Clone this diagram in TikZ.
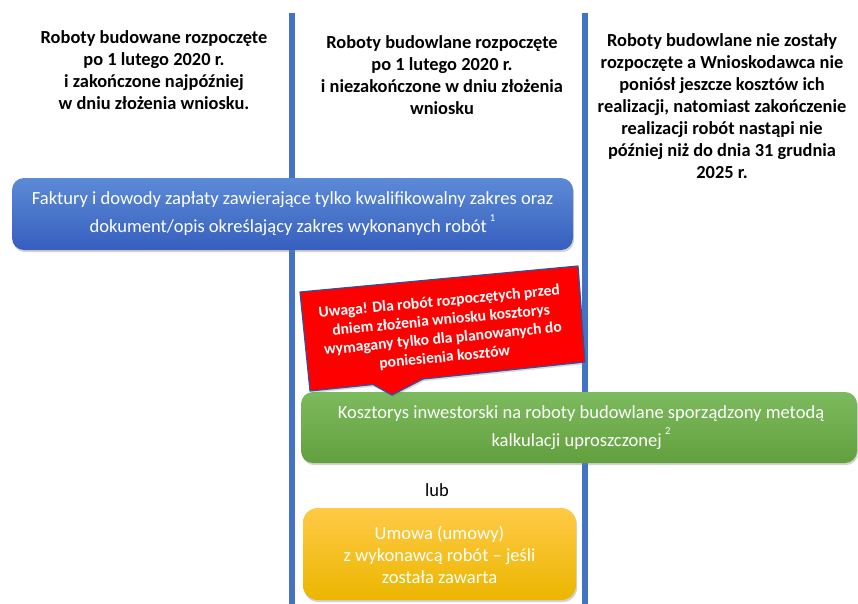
\documentclass[tikz,border=0pt]{standalone}
\usepackage{fontspec}
\setmainfont{Carlito}
\usetikzlibrary{shadows}

\definecolor{lineblue}{RGB}{68,114,196}
\definecolor{boxbluetop}{RGB}{92,138,214}
\definecolor{boxbluebot}{RGB}{54,95,190}
\definecolor{boxgreentop}{RGB}{124,186,94}
\definecolor{boxgreenbot}{RGB}{98,160,62}
\definecolor{boxyellowtop}{RGB}{255,202,70}
\definecolor{boxyellowbot}{RGB}{236,182,0}
\definecolor{calloutedge}{RGB}{47,82,160}

\tikzset{
  headtext/.style={align=center,font=\fontsize{13.8}{16.5}\selectfont\bfseries,inner sep=0pt},
  boxtext/.style={align=center,text=white,font=\fontsize{13.9}{21}\selectfont,inner sep=0pt},
  roundbox/.style={rounded corners=9pt,draw=none,
    drop shadow={opacity=0.35,shadow xshift=0.8pt,shadow yshift=-1.6pt}},
}

\begin{document}
\begin{tikzpicture}[x=0.75pt,y=0.75pt,yscale=-1,xscale=1]
\path[use as bounding box] (0,0) rectangle (858,604);

%Straight Lines [id:col separators]
\draw [lineblue,line width=4.5pt] (292,13) -- (292,604) ;
\draw [lineblue,line width=4.5pt] (585,13) -- (585,604) ;

% Text Node
\node [headtext] (headA) at (154,70.5) {Roboty budowane rozpoczęte\\po 1 lutego 2020 r.\\i zakończone najpóźniej\\w dniu złożenia wniosku.};
% Text Node
\node [headtext] (headB) at (442,75) {Roboty budowlane rozpoczęte\\po 1 lutego 2020 r.\\i niezakończone w dniu złożenia\\wniosku};
% Text Node
\node [headtext] (headC) at (722,106) {Roboty budowlane nie zostały\\rozpoczęte a Wnioskodawca nie\\poniósł jeszcze kosztów ich\\realizacji, natomiast zakończenie\\realizacji robót nastąpi nie\\później niż do dnia 31 grudnia\\2025 r.};

%Shape: Rounded Rect [id:faktury]
\draw [roundbox,top color=boxbluetop,bottom color=boxbluebot] (12,178) rectangle (573,250) ;
\node [boxtext] (faktury) at (292.5,214) {Faktury i dowody zapłaty zawierające tylko kwalifikowalny zakres oraz\\dokument/opis określający zakres wykonanych robót\,\raisebox{1.3ex}{\fontsize{8}{8}\selectfont 1}};

%Shape: Rounded Rect [id:kosztorys]
\draw [roundbox,top color=boxgreentop,bottom color=boxgreenbot] (301,392) rectangle (857,463) ;
\node [boxtext] (kosztorys) at (581,427.5) {Kosztorys inwestorski na roboty budowlane sporządzony metodą\\kalkulacji uproszczonej\,\raisebox{1.3ex}{\fontsize{8}{8}\selectfont 2}};

% Text Node
\node [font=\fontsize{13.9}{16}\selectfont,inner sep=0pt] (lub) at (437,490) {lub};

%Shape: Rounded Rect [id:umowa]
\draw [roundbox,rounded corners=11pt,top color=boxyellowtop,bottom color=boxyellowbot] (303,508) rectangle (576,600) ;
\node [boxtext,font=\fontsize{13.9}{16.5}\selectfont] (umowa) at (439.5,555) {Umowa (umowy)\\z wykonawcą robót -- jeśli\\została zawarta};

%Shape: Callout [id:uwaga]
\draw [fill=red,draw=calloutedge,line width=0.9pt,line join=round,
  drop shadow={opacity=0.3,shadow xshift=0.8pt,shadow yshift=-1.6pt}]
  (300,292) -- (578,266) -- (585,362) -- (423,379) -- (392,395) -- (373,384.5) -- (310,391) -- cycle ;
\node [rotate=5.5,align=center,text=white,inner sep=0pt,
  font=\fontsize{11.7}{14}\selectfont\bfseries] (uwaga) at (442,330) {Uwaga! Dla robót rozpoczętych przed\\dniem złożenia wniosku kosztorys\\wymagany tylko dla planowanych do\\poniesienia kosztów};

\end{tikzpicture}
\end{document}
